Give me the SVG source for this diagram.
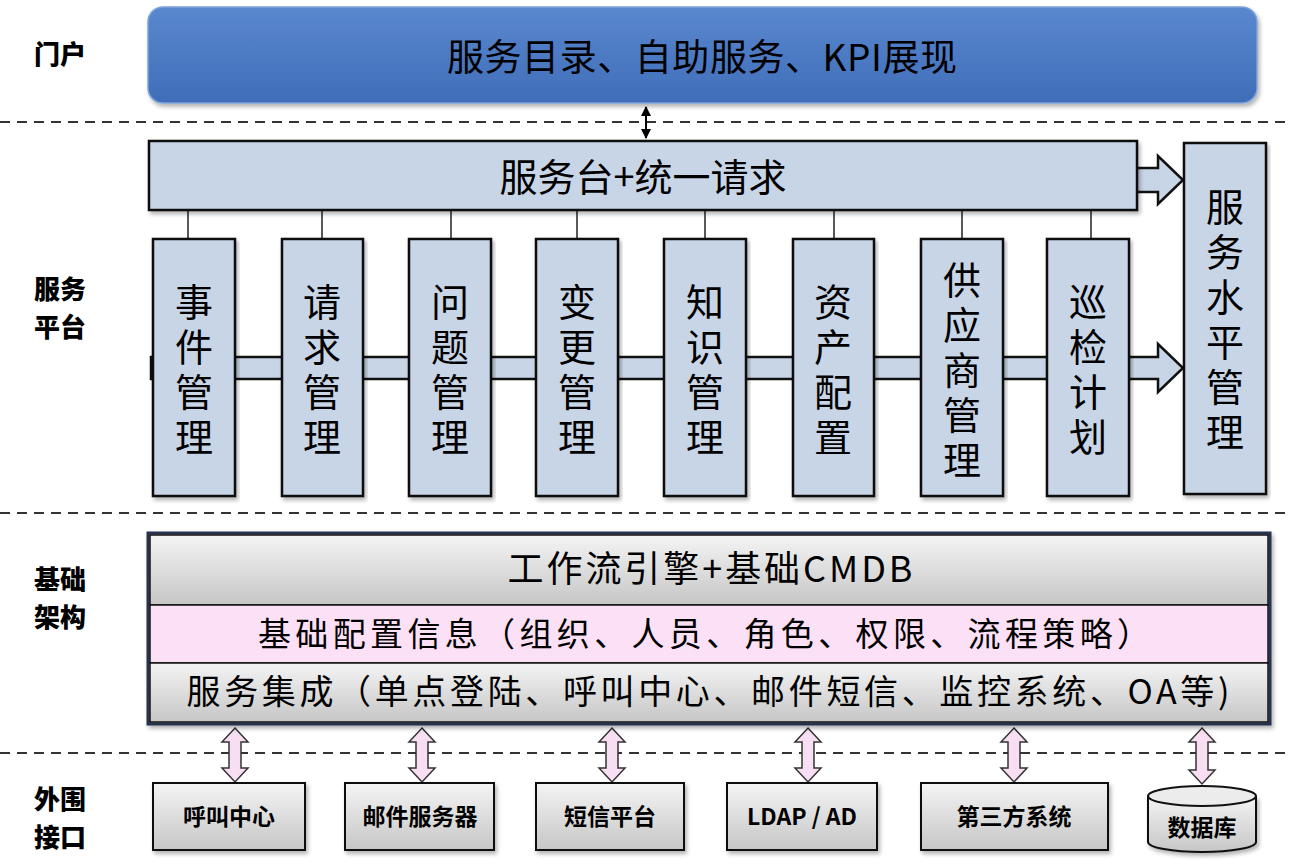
<svg xmlns="http://www.w3.org/2000/svg" width="1291" height="865" viewBox="0 0 1291 865">
<defs>
<style>
.cn{font-family:"Noto Sans CJK SC","Noto Sans",sans-serif;fill:#000}
.lbl{font-family:"Noto Sans CJK SC","Noto Sans",sans-serif;font-weight:900;font-size:26px;fill:#000;text-anchor:middle}
.ext{font-family:"Noto Sans CJK SC","Noto Sans",sans-serif;font-weight:bold;font-size:23px;fill:#000;text-anchor:middle}
.blue{fill:#c8d5e6;stroke:#111;stroke-width:2.5}
.dash{stroke:#333;stroke-width:2;stroke-dasharray:10 7;fill:none}
.conn{stroke:#222;stroke-width:1.5;fill:none}
.pink{fill:#f8def2;stroke:#333;stroke-width:1.5}
.vt{font-family:"Noto Sans CJK SC","Noto Sans",sans-serif;font-size:38px;fill:#000;text-anchor:middle;writing-mode:vertical-rl;letter-spacing:7px}
</style>
<linearGradient id="gBlue" x1="0" y1="0" x2="0" y2="1">
<stop offset="0" stop-color="#5a88cf"/>
<stop offset="1" stop-color="#3f6db8"/>
</linearGradient>
<linearGradient id="gGray" x1="0" y1="0" x2="0" y2="1">
<stop offset="0" stop-color="#f4f4f4"/>
<stop offset="1" stop-color="#c6c6c6"/>
</linearGradient>
<filter id="sh" x="-5%" y="-5%" width="110%" height="120%">
<feDropShadow dx="2" dy="3" stdDeviation="2" flood-color="#000" flood-opacity="0.3"/>
</filter>
<marker id="ah" viewBox="0 0 10 10" refX="9" refY="5" markerWidth="5" markerHeight="5" orient="auto-start-reverse">
<path d="M0,0 L10,5 L0,10 Z" fill="#000"/>
</marker>
</defs>

<rect width="1291" height="865" fill="#fff"/>

<g id="dividers">
<line class="dash" x1="0" y1="122" x2="1291" y2="122"/>
<line class="dash" x1="0" y1="513" x2="1291" y2="513"/>
<line class="dash" x1="0" y1="753" x2="1291" y2="753"/>
</g>

<g id="layer-labels">
<text class="lbl" x="60" y="64">门户</text>
<text class="lbl" x="60" y="299">服务<tspan x="60" dy="38">平台</tspan></text>
<text class="lbl" x="60" y="589">基础<tspan x="60" dy="38">架构</tspan></text>
<text class="lbl" x="60" y="809">外围<tspan x="60" dy="38">接口</tspan></text>
</g>

<g id="portal">
<rect x="148" y="7" width="1109" height="96" rx="15" fill="url(#gBlue)" stroke="#7ea4d9" stroke-width="1.5" filter="url(#sh)"/>
<text class="cn" x="702" y="71" font-size="37" text-anchor="middle" textLength="510" lengthAdjust="spacing">服务目录、自助服务、KPI展现</text>
</g>

<g id="connectors">
<line x1="646" y1="107" x2="646" y2="138" stroke="#000" stroke-width="2" marker-start="url(#ah)" marker-end="url(#ah)"/>
<path class="blue" d="M1120,168 L1158,168 L1158,156 L1183,180 L1158,204 L1158,192 L1120,192 Z" stroke-width="2"/>
<path class="blue" d="M151,357 L1158,357 L1158,344 L1183,368 L1158,392 L1158,379 L151,379 Z" stroke-width="2"/>
<line class="conn" x1="188" y1="210" x2="188" y2="239"/>
<line class="conn" x1="322" y1="210" x2="322" y2="239"/>
<line class="conn" x1="451" y1="210" x2="451" y2="239"/>
<line class="conn" x1="577" y1="210" x2="577" y2="239"/>
<line class="conn" x1="705" y1="210" x2="705" y2="239"/>
<line class="conn" x1="834" y1="210" x2="834" y2="239"/>
<line class="conn" x1="962" y1="210" x2="962" y2="239"/>
<line class="conn" x1="1091" y1="210" x2="1091" y2="239"/>
<polygon class="pink" points="235,728 248,742 241,742 241,768 248,768 235,782 222,768 229,768 229,742 222,742"/>
<polygon class="pink" points="422,728 435,742 428,742 428,768 435,768 422,782 409,768 416,768 416,742 409,742"/>
<polygon class="pink" points="612,728 625,742 618,742 618,768 625,768 612,782 599,768 606,768 606,742 599,742"/>
<polygon class="pink" points="808,728 821,742 814,742 814,768 821,768 808,782 795,768 802,768 802,742 795,742"/>
<polygon class="pink" points="1014,728 1027,742 1020,742 1020,768 1027,768 1014,782 1001,768 1008,768 1008,742 1001,742"/>
<polygon class="pink" points="1202,728 1215,742 1208,742 1208,770 1215,770 1202,784 1189,770 1196,770 1196,742 1189,742"/>
</g>

<g id="service-desk">
<rect class="blue" x="149" y="141" width="988" height="69" filter="url(#sh)"/>
<text class="cn" x="643" y="191" font-size="38" text-anchor="middle">服务台+统一请求</text>
</g>

<g id="incident">
<rect class="blue" x="153" y="239" width="82" height="257" filter="url(#sh)"/>
<text class="vt" x="194" y="373">事件管理</text>
</g>
<g id="request">
<rect class="blue" x="282" y="239" width="81" height="257" filter="url(#sh)"/>
<text class="vt" x="322" y="373">请求管理</text>
</g>
<g id="problem">
<rect class="blue" x="409" y="239" width="82" height="257" filter="url(#sh)"/>
<text class="vt" x="450" y="373">问题管理</text>
</g>
<g id="change">
<rect class="blue" x="536" y="239" width="82" height="257" filter="url(#sh)"/>
<text class="vt" x="577" y="373">变更管理</text>
</g>
<g id="knowledge">
<rect class="blue" x="664" y="239" width="82" height="257" filter="url(#sh)"/>
<text class="vt" x="705" y="373">知识管理</text>
</g>
<g id="asset">
<rect class="blue" x="793" y="239" width="81" height="257" filter="url(#sh)"/>
<text class="vt" x="833" y="373">资产配置</text>
</g>
<g id="supplier">
<rect class="blue" x="921" y="239" width="82" height="257" filter="url(#sh)"/>
<text class="vt" x="962" y="373">供应商管理</text>
</g>
<g id="inspection">
<rect class="blue" x="1047" y="239" width="82" height="257" filter="url(#sh)"/>
<text class="vt" x="1088" y="373">巡检计划</text>
</g>
<g id="sla">
<rect class="blue" x="1184" y="143" width="82" height="351" filter="url(#sh)"/>
<text class="vt" x="1225" y="323">服务水平管理</text>
</g>

<g id="infrastructure">
<rect x="148" y="533" width="1122" height="191" fill="#d0d0d0" stroke="#26324f" stroke-width="3" filter="url(#sh)"/>
<rect x="150" y="535" width="1118" height="70" fill="url(#gGray)" stroke="#111" stroke-width="1.5"/>
<rect x="150" y="605" width="1118" height="58" fill="#fce0f6" stroke="#111" stroke-width="1.5"/>
<rect x="150" y="663" width="1118" height="59" fill="url(#gGray)" stroke="#111" stroke-width="1.5"/>
<text class="cn" x="710" y="582" font-size="36" text-anchor="middle" textLength="405" lengthAdjust="spacing">工作流引擎+基础CMDB</text>
<text class="cn" x="704" y="646" font-size="33" text-anchor="middle" textLength="892" lengthAdjust="spacing">基础配置信息（组织、人员、角色、权限、流程策略）</text>
<text class="cn" x="708" y="704" font-size="34" text-anchor="middle" textLength="1043" lengthAdjust="spacing">服务集成（单点登陆、呼叫中心、邮件短信、监控系统、OA等)</text>
</g>

<g id="call-center">
<rect x="153" y="783" width="152" height="67" fill="url(#gGray)" stroke="#111" stroke-width="2" filter="url(#sh)"/>
<text class="ext" x="229" y="825">呼叫中心</text>
</g>
<g id="mail-server">
<rect x="345" y="783" width="149" height="67" fill="url(#gGray)" stroke="#111" stroke-width="2" filter="url(#sh)"/>
<text class="ext" x="420" y="825">邮件服务器</text>
</g>
<g id="sms">
<rect x="536" y="783" width="148" height="67" fill="url(#gGray)" stroke="#111" stroke-width="2" filter="url(#sh)"/>
<text class="ext" x="610" y="825">短信平台</text>
</g>
<g id="ldap">
<rect x="727" y="783" width="150" height="67" fill="url(#gGray)" stroke="#111" stroke-width="2" filter="url(#sh)"/>
<text class="ext" x="802" y="825" font-size="22">LDAP / AD</text>
</g>
<g id="third-party">
<rect x="921" y="783" width="187" height="67" fill="url(#gGray)" stroke="#111" stroke-width="2" filter="url(#sh)"/>
<text class="ext" x="1014" y="825">第三方系统</text>
</g>
<g id="database">
<path d="M1148,796 L1148,842 A54,10 0 0 0 1256,842 L1256,796" fill="url(#gGray)" stroke="#111" stroke-width="2" filter="url(#sh)"/>
<ellipse cx="1202" cy="796" rx="54" ry="10" fill="#ececec" stroke="#111" stroke-width="2"/>
<text class="ext" x="1202" y="836">数据库</text>
</g>
</svg>
